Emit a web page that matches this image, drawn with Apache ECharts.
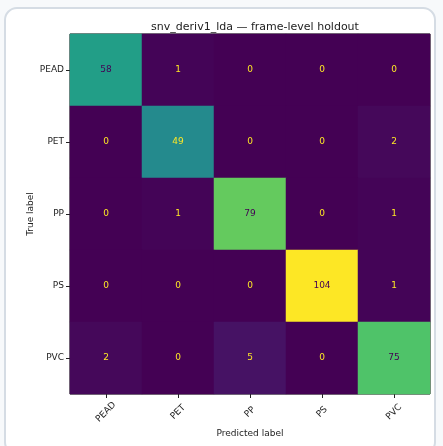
<!DOCTYPE html>
<html><head><meta charset="utf-8">
<script src="https://cdn.jsdelivr.net/npm/echarts@6/dist/echarts.min.js"></script>
<style>html,body{margin:0;padding:0;background:#f7f9fb;}#c{width:443px;height:446px;}</style>
</head><body><div id="c"></div>
<script>
const title = 'snv_deriv1_lda — frame-level holdout';
const categories = ['PEAD', 'PET', 'PP', 'PS', 'PVC'];
const rowPEAD = [58, 1, 0, 0, 0];
const rowPET = [0, 49, 0, 0, 2];
const rowPP = [0, 1, 79, 0, 1];
const rowPS = [0, 0, 0, 104, 1];
const rowPVC = [2, 0, 5, 0, 75];
const rows = [rowPEAD, rowPET, rowPP, rowPS, rowPVC];
const viridis = ['#440154','#482475','#414487','#355f8d','#2a788e','#21918c','#22a884','#44bf70','#7ad151','#bddf26','#fde725'];

let vmax = 0;
rows.forEach(r => r.forEach(v => { if (v > vmax) vmax = v; }));
const thresh = vmax / 2;
const data = [];
rows.forEach((r, yi) => r.forEach((v, xi) => {
  data.push({ value: [xi, yi, v], label: { color: v < thresh ? '#fde725' : '#440154' } });
}));

const chart = echarts.init(document.getElementById('c'), null, { renderer: 'canvas' });
chart.setOption({
  backgroundColor: '#f7f9fb',
  animation: false,
  graphic: [{
    type: 'rect', z: -10, silent: true,
    shape: { x: 5, y: 8, width: 430, height: 446, r: 12 },
    style: { fill: '#ffffff', stroke: '#d5dce4', lineWidth: 2 }
  }],
  title: {
    text: title, left: 250, top: 17, textAlign: 'center',
    textStyle: { fontFamily: 'DejaVu Sans', fontSize: 11, fontWeight: 'normal', color: '#222' }
  },
  grid: { left: 70, top: 34, width: 360, height: 360, show: true, borderColor: '#000', borderWidth: 1, backgroundColor: 'transparent' },
  xAxis: {
    type: 'category', data: categories, position: 'bottom',
    name: 'Predicted label', nameLocation: 'middle', nameGap: 35, nameMoveOverlap: false,
    nameTextStyle: { fontFamily: 'DejaVu Sans', fontSize: 9, color: '#222' },
    axisLine: { show: false },
    axisTick: { show: true, alignWithLabel: true, length: 4, lineStyle: { color: '#222' } },
    axisLabel: { rotate: 45, align: 'center', verticalAlign: 'middle', margin: 18, fontFamily: 'DejaVu Sans', fontSize: 9, color: '#222' },
    splitLine: { show: false }
  },
  yAxis: {
    type: 'category', data: categories, inverse: true,
    name: 'True label', nameLocation: 'middle', nameGap: 35, nameMoveOverlap: false,
    nameTextStyle: { fontFamily: 'DejaVu Sans', fontSize: 9, color: '#222' },
    axisLine: { show: false },
    axisTick: { show: true, alignWithLabel: true, length: 4, lineStyle: { color: '#222' } },
    axisLabel: { margin: 6, fontFamily: 'DejaVu Sans', fontSize: 9, color: '#222' },
    splitLine: { show: false }
  },
  visualMap: {
    show: false, type: 'continuous', min: 0, max: vmax, dimension: 2,
    inRange: { color: viridis }
  },
  series: [{
    type: 'heatmap', data: data,
    label: { show: true, fontFamily: 'DejaVu Sans', fontSize: 9 },
    itemStyle: { borderWidth: 0 },
    emphasis: { disabled: true }
  }]
});
</script></body></html>
